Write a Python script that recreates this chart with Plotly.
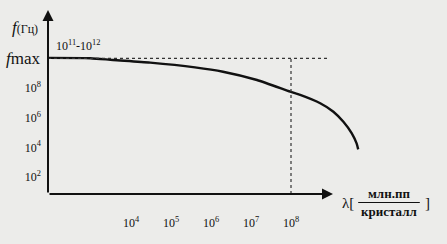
import plotly.graph_objects as go
import numpy as np

# Curve (lambda, f) as decade exponents
lam_exp = [1.93, 2.98, 3.55, 4.48, 5.6, 6.3, 7.15, 7.98, 8.23, 8.73, 9.06, 9.31, 9.52, 9.64, 9.68]
freq_exp = [10.03, 10.01, 9.89, 9.71, 9.39, 9.10, 8.54, 7.75, 7.53, 6.97, 6.40, 5.72, 4.94, 4.26, 3.86]
lam = [10**v for v in lam_exp]
freq = [10**v for v in freq_exp]

x_ticks = [1e4, 1e5, 1e6, 1e7, 1e8]
x_ticktext = ["10<sup>4</sup>", "10<sup>5</sup>", "10<sup>6</sup>", "10<sup>7</sup>", "10<sup>8</sup>"]
y_ticks = [1e2, 1e4, 1e6, 1e8]
y_ticktext = ["10<sup>2</sup>", "10<sup>4</sup>", "10<sup>6</sup>", "10<sup>8</sup>"]
f_max = 1e10
lam_mark = 1e8

XR = [1.925, 11.725]
YR = [0.85, 13.6]
FONT = "Liberation Serif"
INK = "#111111"

fig = go.Figure()
fig.add_trace(go.Scatter(x=lam, y=freq, mode="lines", line=dict(color=INK, width=2.4, shape="spline", smoothing=0.6),
                         hoverinfo="skip", showlegend=False))
# dotted guides
fig.add_trace(go.Scatter(x=[10**XR[0], 10**8.97], y=[f_max, f_max], mode="lines",
                         line=dict(color="#333", width=1.2, dash="dot"), showlegend=False))
fig.add_trace(go.Scatter(x=[lam_mark, lam_mark], y=[10**YR[0], f_max], mode="lines",
                         line=dict(color="#333", width=1.2, dash="dot"), showlegend=False))

fig.update_xaxes(type="log", range=XR, showgrid=False, zeroline=False, showline=False,
                 tickvals=x_ticks, ticktext=x_ticktext, ticks="", ticklabelstandoff=20,
                 tickfont=dict(family=FONT, size=12, color=INK))
fig.update_yaxes(type="log", range=YR, showgrid=False, zeroline=False, showline=False,
                 tickvals=y_ticks, ticktext=y_ticktext, ticks="", ticklabelstandoff=6,
                 tickfont=dict(family=FONT, size=12, color=INK))

ann = []
# axes arrows
ann.append(dict(x=9.05, y=YR[0], ax=XR[0], ay=YR[0], xref="x", yref="y", axref="x", ayref="y",
                showarrow=True, arrowhead=2, arrowsize=1.1, arrowwidth=2, arrowcolor=INK, text=""))
ann.append(dict(x=XR[0], y=13.27, ax=XR[0], ay=YR[0], xref="x", yref="y", axref="x", ayref="y",
                showarrow=True, arrowhead=2, arrowsize=1.1, arrowwidth=2, arrowcolor=INK, text=""))
# labels
ann.append(dict(x=XR[0], y=np.log10(f_max), xref="x", yref="y", xanchor="right", yanchor="middle", xshift=-5,
                text="<i>f</i>max", showarrow=False, font=dict(family=FONT, size=17, color=INK)))
ann.append(dict(x=XR[0], y=12.1, xref="x", yref="y", xanchor="right", yanchor="middle", xshift=-8,
                text="<i>f</i><span style='font-size:12px'>(Гц)</span>", showarrow=False,
                font=dict(family=FONT, size=17, color=INK)))
ann.append(dict(x=XR[0], y=np.log10(f_max), xref="x", yref="y", xanchor="left", yanchor="bottom", xshift=6, yshift=3,
                text="10<sup>11</sup>-10<sup>12</sup>", showarrow=False, font=dict(family=FONT, size=12, color=INK)))
ann.append(dict(x=9.22, y=YR[0], xref="x", yref="y", xanchor="left", yanchor="middle", yshift=-9,
                text="λ[", showarrow=False, font=dict(family=FONT, size=15, color=INK)))
ann.append(dict(x=10.45, y=YR[0], xref="x", yref="y", xanchor="center", yanchor="middle", yshift=1,
                text="<b>млн.пп</b>", showarrow=False, font=dict(family=FONT, size=13, color=INK)))
ann.append(dict(x=10.45, y=YR[0], xref="x", yref="y", xanchor="center", yanchor="middle", yshift=-17,
                text="<b>кристалл</b>", showarrow=False, font=dict(family=FONT, size=13, color=INK)))
ann.append(dict(x=11.3, y=YR[0], xref="x", yref="y", xanchor="left", yanchor="middle", yshift=-9,
                text="]", showarrow=False, font=dict(family=FONT, size=15, color=INK)))
fig.update_layout(annotations=ann)
fig.add_shape(type="line", xref="x", yref="paper", x0=10**9.68, x1=10**11.22, y0=-0.045, y1=-0.045,
              line=dict(color=INK, width=1))

fig.update_layout(width=447, height=244, margin=dict(l=48, r=7, t=5, b=50),
                  paper_bgcolor="#ececea", plot_bgcolor="#ececea", showlegend=False)
fig.write_html("out.html")
